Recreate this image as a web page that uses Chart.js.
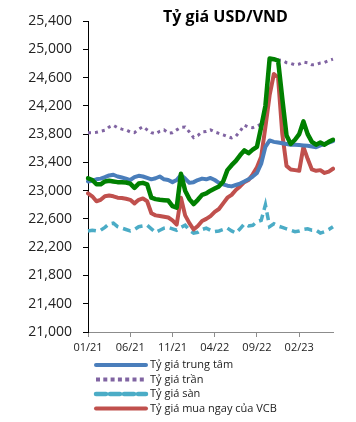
<!DOCTYPE html>
<html>
<head>
<meta charset="utf-8">
<script src="https://cdn.jsdelivr.net/npm/chart.js@4"></script>
<style>
html,body{margin:0;padding:0;background:#fff;}
#c{display:block;}
</style>
</head>
<body>
<canvas id="c" width="356" height="422"></canvas>
<script>
const chartTitle = 'Tỷ giá USD/VND';

const categories = [
'01/01/21','16/01/21','01/02/21','16/02/21','01/03/21','16/03/21','01/04/21','16/04/21','01/05/21','16/05/21',
'01/06/21','16/06/21','01/07/21','16/07/21','01/08/21','16/08/21','01/09/21','16/09/21','01/10/21','16/10/21',
'01/11/21','16/11/21','01/12/21','16/12/21','01/01/22','16/01/22','01/02/22','16/02/22','01/03/22','16/03/22',
'01/04/22','16/04/22','01/05/22','16/05/22','01/06/22','16/06/22','01/07/22','16/07/22','01/08/22','16/08/22',
'01/09/22','16/09/22','01/10/22','16/10/22','01/11/22','16/11/22','01/12/22','16/12/22','01/01/23','16/01/23',
'01/02/23','16/02/23','01/03/23','16/03/23','01/04/23','16/04/23','01/05/23','16/05/23','01/06/23'
];

const xTickLabels = ['01/21','06/21','11/21','04/22','09/22','02/23'];
const xTickEvery = 10;

const seriesNames = ['Tỷ giá trung tâm','Tỷ giá trần','Tỷ giá sàn','Tỷ giá mua ngay của VCB','Tỷ giá bán ngay của VCB'];

const centralRate = [
23130,23140,23160,23170,23190,23215,23225,23200,23185,23170,
23150,23190,23210,23200,23180,23160,23175,23200,23160,23150,
23120,23150,23220,23170,23110,23120,23150,23170,23160,23180,
23150,23110,23090,23070,23060,23080,23100,23130,23160,23200,
23250,23380,23620,23710,23690,23680,23670,23660,23650,23650,
23645,23640,23635,23625,23615,23640,23660,23680,23700
];

const ceilingRate = [
23820,23820,23825,23840,23855,23900,23925,23890,23870,23860,
23830,23820,23870,23905,23860,23820,23805,23840,23860,23815,
23820,23860,23895,23900,23830,23750,23780,23830,23835,23860,
23830,23810,23790,23765,23745,23770,23840,23925,23900,23890,
23915,23940,24150,24850,24855,24850,24840,24810,24800,24780,
24790,24820,24810,24780,24785,24805,24815,24840,24860
];

const floorRate = [
22430,22440,22430,22440,22480,22530,22540,22490,22470,22450,
22430,22450,22490,22500,22510,22460,22410,22440,22470,22480,
22460,22440,22480,22510,22440,22400,22410,22450,22470,22440,
22420,22430,22450,22470,22430,22400,22460,22530,22500,22510,
22560,22580,22800,22490,22530,22500,22480,22460,22440,22420,
22430,22450,22460,22440,22440,22400,22420,22450,22490
];

const vcbBuy = [
22962,22920,22850,22870,22920,22930,22920,22900,22895,22885,
22870,22820,22870,22890,22850,22680,22650,22640,22630,22620,
22580,22520,22900,22650,22540,22450,22500,22570,22600,22640,
22700,22740,22820,22900,22940,23010,23060,23120,23150,23230,
23330,23480,23900,24350,24650,24600,23800,23350,23300,23290,
23280,23620,23450,23300,23280,23290,23250,23270,23310
];

const vcbSell = [
23175,23150,23090,23090,23130,23140,23130,23120,23120,23115,
23100,23040,23100,23110,23090,22900,22880,22870,22865,22860,
22780,22760,23240,23000,22880,22810,22870,22940,22960,23000,
23030,23060,23130,23290,23360,23420,23500,23570,23530,23580,
23620,23900,24200,24870,24860,24840,24300,23780,23660,23720,
23800,23980,23800,23690,23650,23680,23650,23690,23720
];

const yMin = 21000, yMax = 25400, yStep = 400;

const FONT = "'Open Sans', 'Noto Sans', sans-serif";

const titlePlugin = {
  id: 'customTitle',
  afterDraw(chart) {
    const ctx = chart.ctx;
    const a = chart.chartArea;
    ctx.save();
    ctx.font = "bold 16px " + FONT;
    ctx.fillStyle = '#000';
    ctx.textAlign = 'center';
    ctx.textBaseline = 'middle';
    ctx.fillText(chartTitle, (a.left + a.right) / 2 + 15, 17);
    ctx.restore();
  }
};

const legendPlugin = {
  id: 'customLegend',
  afterDraw(chart) {
    const ctx = chart.ctx;
    const a = chart.chartArea;
    let y = a.bottom + 33;
    ctx.save();
    chart.data.datasets.forEach(ds => {
      if (ds.inLegend === false) return;
      ctx.save();
      ctx.strokeStyle = ds.borderColor;
      ctx.lineWidth = ds.legendWidth || ds.borderWidth;
      ctx.setLineDash(ds.legendDash || ds.borderDash || []);
      ctx.lineCap = ds.legendCap || ds.borderCapStyle || 'butt';
      ctx.beginPath();
      ctx.moveTo(a.left + 8, y);
      ctx.lineTo(a.left + 58, y);
      ctx.stroke();
      ctx.restore();
      ctx.font = "11px " + FONT;
      ctx.fillStyle = '#222';
      ctx.textAlign = 'left';
      ctx.textBaseline = 'middle';
      ctx.fillText(ds.label, a.left + 62, y);
      y += 14.5;
    });
    ctx.restore();
  }
};

new Chart(document.getElementById('c'), {
  type: 'line',
  data: {
    labels: categories,
    datasets: [
      { label: seriesNames[0], data: centralRate, borderColor: '#4a7ebb', borderWidth: 4,
        borderCapStyle: 'round', borderJoinStyle: 'round', order: 1 },
      { label: seriesNames[1], data: ceilingRate, borderColor: '#8064a2', borderWidth: 3,
        borderDash: [3, 4], borderCapStyle: 'butt', legendDash: [4, 3.3], legendWidth: 4, order: 3 },
      { label: seriesNames[2], data: floorRate, borderColor: '#4bacc6', borderWidth: 3.5,
        borderDash: [8, 5], borderCapStyle: 'butt', legendDash: [10, 4], legendWidth: 4.5, legendCap: 'round', order: 4 },
      { label: seriesNames[3], data: vcbBuy, borderColor: '#c0504d', borderWidth: 4,
        borderCapStyle: 'round', borderJoinStyle: 'round', order: 2 },
      { label: seriesNames[4], data: vcbSell, borderColor: '#008000', borderWidth: 4.5,
        borderCapStyle: 'round', borderJoinStyle: 'round', order: 0, inLegend: false }
    ]
  },
  options: {
    responsive: false,
    devicePixelRatio: 1,
    animation: false,
    elements: { point: { radius: 0 }, line: { tension: 0 } },
    layout: { padding: { top: 21, right: 23, bottom: 60, left: 0 } },
    plugins: { legend: { display: false }, title: { display: false }, tooltip: { enabled: false } },
    scales: {
      x: {
        type: 'category',
        offset: false,
        afterFit(scale) { scale.height = 30; },
        grid: {
          display: true, drawOnChartArea: false, drawTicks: true, tickLength: 5,
          color: (c) => (c.index % xTickEvery === 0 ? '#8c8c8c' : 'rgba(0,0,0,0)')
        },
        border: { display: true, color: '#8c8c8c', width: 1 },
        ticks: {
          autoSkip: false, maxRotation: 0, minRotation: 0, padding: 4,
          color: '#222', font: { family: FONT, size: 11 },
          callback: (v, i) => (i % xTickEvery === 0 ? (xTickLabels[i / xTickEvery] || '') : '')
        }
      },
      y: {
        min: yMin, max: yMax,
        afterFit(scale) { scale.width = 88; },
        grid: { display: true, drawOnChartArea: false, drawTicks: true, tickLength: 5, color: '#000' },
        border: { display: true, color: '#000', width: 1 },
        ticks: {
          stepSize: yStep, padding: 11, color: '#222',
          font: { family: FONT, size: 14 },
          callback: (v) => v.toLocaleString('en-US')
        }
      }
    }
  },
  plugins: [titlePlugin, legendPlugin]
});
</script>
</body>
</html>
